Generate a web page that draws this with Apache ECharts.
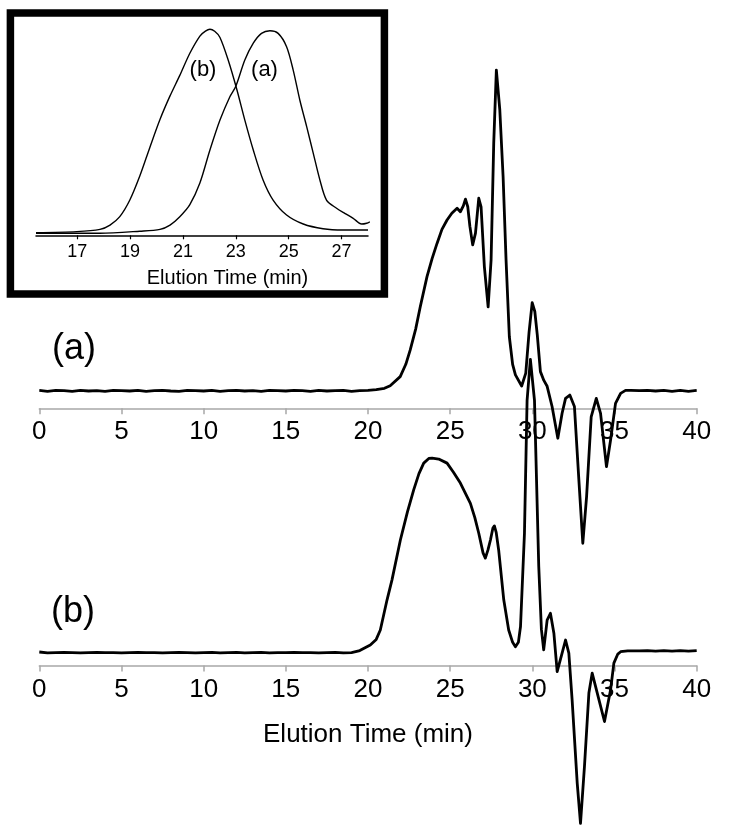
<!DOCTYPE html>
<html>
<head>
<meta charset="utf-8">
<script src="https://cdn.jsdelivr.net/npm/echarts@6/dist/echarts.min.js"></script>
<style>
html,body{margin:0;padding:0;background:#fff;}
#chart{width:750px;height:836px;}
</style>
</head>
<body>
<div id="chart"></div>
<script>
// ---------- data ----------
const mainTicks = [0, 5, 10, 15, 20, 25, 30, 35, 40];
const insetTicks = [17, 19, 21, 23, 25, 27];

// Panel (a): elution time (min) and detector signal (a.u.)
const timeA = [0,0.5,1,1.5,2,2.5,3,3.5,4,4.5,5,5.5,6,6.5,7,7.5,8,8.5,9,9.5,10,10.5,11,11.5,12,12.5,13,13.5,14,14.5,15,15.5,16,16.5,17,17.5,18,18.5,19,19.5,20,
  20.5,21,21.35,21.96,22.3,22.57,22.9,23.18,23.59,23.9,24.2,24.5,24.81,25.1,25.42,25.62,25.8,25.93,26.07,26.2,26.37,26.54,26.74,26.88,27.08,27.31,27.49,27.65,27.81,28.02,28.22,28.4,28.6,28.8,28.97,29.35,29.6,29.8,29.99,30.15,30.3,30.49,30.7,30.9,31.2,31.55,31.81,32.02,32.28,32.56,32.83,33.07,33.3,33.58,33.89,34.15,34.51,34.76,35.06,35.37,35.67,36,36.5,37,37.5,38,38.5,39,39.5,40];
const signalA = [0.1,-0.2,0.1,0,-0.2,0.1,-0.1,0,-0.2,0.1,0,-0.1,0.1,-0.2,0,0.1,-0.1,-0.2,0.1,0,-0.1,0.1,-0.2,0,0.1,-0.1,0,-0.2,0.1,0,-0.1,0.1,0,-0.2,0.1,-0.1,0,0.1,-0.2,0,0.1,
  0.4,0.8,1.7,4.8,9,13.9,21,28.6,38.9,45,50.2,55,58.2,60.5,62.2,61,63,65.3,62.7,56,49.7,53.7,65.6,62.7,42.3,28.6,44.6,84.3,109.3,95.7,73,44.6,18.4,9,5.4,1.6,6,20,30,27,19,6.5,3.5,1.5,-5.4,-16.2,-7.7,-2.6,-1.5,-5.4,-30.4,-52,-36.1,-8.9,-2.6,-7.7,-25.9,-16.8,-4.3,-0.9,0.1,0.1,0,0.1,-0.1,0.1,-0.2,0.1,-0.2,0.1];

// Panel (b)
const timeB = [0,0.5,1,1.5,2,2.5,3,3.5,4,4.5,5,5.5,6,6.5,7,7.5,8,8.5,9,9.5,10,10.5,11,11.5,12,12.5,13,13.5,14,14.5,15,15.5,16,16.5,17,17.5,18,18.5,19,
  19.5,20.14,20.5,20.75,21.16,21.46,21.97,22.4,22.78,23.1,23.39,23.7,23.9,24.3,24.81,25.2,25.62,26.23,26.5,26.74,27,27.14,27.3,27.45,27.6,27.69,27.8,27.95,28.26,28.56,28.8,28.97,29.15,29.28,29.52,29.68,29.88,30.13,30.39,30.55,30.69,30.9,31.1,31.31,31.51,31.81,32.02,32.22,32.42,32.73,32.93,33.17,33.44,33.64,33.95,34.39,34.76,34.96,35.2,35.37,35.8,36.5,37,37.5,38,38.5,39,39.5,40];
const signalB = [0.2,-0.1,0,0.1,0,-0.1,0,0.1,0,0,-0.1,0,0.1,0,0,-0.1,0,0.1,0,-0.1,0,0.1,-0.1,0,0.1,-0.1,0,0.1,-0.1,0,0,0.1,0,0,-0.1,0,0.1,-0.1,0,
  0.7,2.6,4.5,7.7,18,24.8,38.4,48,55.5,61,64.6,66.2,66.3,66,64.6,61.5,57.8,50.9,46,40.7,34,32.2,35,38.4,42.5,43.2,41,35,18,7.7,3.5,2,3.5,8.9,40.7,86,100,86,29.3,8,0.9,11.1,13.4,6.6,-6.5,-0.2,4.3,-0.2,-16.1,-44.5,-58.2,-38.9,-13.8,-7,-13.8,-23.5,-12.7,-3.6,-0.5,0.3,0.6,0.6,0.7,0.5,0.7,0.5,0.7,0.5,0.7];

// Inset: normalized traces
const insetTimeB = [15.44,16.98,17.86,18.24,18.61,18.99,19.37,19.75,20.13,20.51,20.88,21.26,21.64,21.85,22.02,22.2,22.4,22.71,23.03,23.34,23.66,24.03,24.41,24.92,25.55,26.3,27.06,28.0];
const insetSignalB = [0.013,0.018,0.029,0.05,0.091,0.172,0.29,0.43,0.565,0.68,0.78,0.888,0.972,0.996,1.005,0.995,0.965,0.855,0.715,0.562,0.416,0.27,0.172,0.099,0.055,0.032,0.026,0.026];
const insetTimeA = [15.44,17.86,19.37,20.13,20.51,20.88,21.26,21.64,22.02,22.4,22.77,23.0,23.34,23.66,23.97,24.29,24.6,24.92,25.17,25.42,25.68,25.93,26.18,26.43,26.81,27.12,27.44,27.76,27.95,28.07];
const insetSignalA = [0.01,0.01,0.02,0.029,0.05,0.091,0.15,0.255,0.416,0.562,0.675,0.727,0.855,0.937,0.985,0.998,0.985,0.92,0.806,0.66,0.53,0.4,0.27,0.172,0.132,0.107,0.083,0.055,0.059,0.066];

// ---------- chart ----------
const FONT = "'Liberation Sans', Arial, Helvetica, sans-serif";
const zip = (xs, ys) => xs.map((x, i) => [x, ys[i]]);

const chart = echarts.init(document.getElementById('chart'), null, {renderer: 'canvas'});

function mainXAxis(gridIndex) {
  return {
    type: 'value', gridIndex, min: mainTicks[0], max: mainTicks[mainTicks.length - 1], interval: 5,
    axisLine: {show: true, onZero: false, lineStyle: {color: '#a8a8a8', width: 1.5}},
    axisTick: {show: true, length: 6, lineStyle: {color: '#a8a8a8', width: 1.5}},
    splitLine: {show: false},
    axisLabel: {color: '#000', fontSize: 26, fontFamily: FONT, margin: 11, showMinLabel: true, showMaxLabel: true}
  };
}

const lineBase = {
  type: 'line', showSymbol: false, symbol: 'none', clip: false, smooth: false,
  animation: false, silent: true
};

const option = {
  backgroundColor: '#fff',
  animation: false,
  grid: [
    {left: 39.3, right: 53.3, top: 68, bottom: 427.7},
    {left: 39.3, right: 53.3, top: 359.3, bottom: 170.5},
    {left: 36, right: 382, top: 20.05, bottom: 600.7}
  ],
  xAxis: [
    mainXAxis(0),
    Object.assign(mainXAxis(1), {
      name: 'Elution Time (min)', nameLocation: 'middle', nameGap: 56,
      nameTextStyle: {color: '#000', fontSize: 26, fontFamily: FONT}
    }),
    {
      type: 'value', gridIndex: 2, min: 15.44, max: 28,
      axisLine: {show: true, onZero: false, lineStyle: {color: '#000', width: 1.5}},
      axisTick: {show: true, length: 4, customValues: insetTicks, lineStyle: {color: '#000', width: 1.2}},
      splitLine: {show: false},
      axisLabel: {color: '#000', fontSize: 18, fontFamily: FONT, margin: 8, customValues: insetTicks}
    }
  ],
  yAxis: [
    {type: 'value', gridIndex: 0, min: -6, max: 110, show: false, splitLine: {show: false}},
    {type: 'value', gridIndex: 1, min: -4.4, max: 100, show: false, splitLine: {show: false}},
    {type: 'value', gridIndex: 2, min: 0, max: 1.05, show: false, splitLine: {show: false}}
  ],
  series: [
    Object.assign({}, lineBase, {name: '(a)', xAxisIndex: 0, yAxisIndex: 0, data: zip(timeA, signalA),
      lineStyle: {color: '#000', width: 2.8, join: 'round'}, z: 3}),
    Object.assign({}, lineBase, {name: '(b)', xAxisIndex: 1, yAxisIndex: 1, data: zip(timeB, signalB),
      lineStyle: {color: '#000', width: 2.8, join: 'round'}, z: 3}),
    Object.assign({}, lineBase, {name: 'inset (b)', xAxisIndex: 2, yAxisIndex: 2, data: zip(insetTimeB, insetSignalB),
      smooth: 0.3, lineStyle: {color: '#000', width: 1.4}, z: 3}),
    Object.assign({}, lineBase, {name: 'inset (a)', xAxisIndex: 2, yAxisIndex: 2, data: zip(insetTimeA, insetSignalA),
      smooth: 0.3, lineStyle: {color: '#000', width: 1.4}, z: 3})
  ],
  graphic: [
    {type: 'rect', shape: {x: 10.4, y: 13, width: 374, height: 281},
      style: {fill: 'none', stroke: '#000', lineWidth: 7.5}, z: 10, silent: true},
    {type: 'text', x: 74, y: 349, style: {text: '(a)', fontSize: 36, fontFamily: FONT, fill: '#000', textAlign: 'center', textVerticalAlign: 'middle'}, z: 10},
    {type: 'text', x: 73, y: 612, style: {text: '(b)', fontSize: 36, fontFamily: FONT, fill: '#000', textAlign: 'center', textVerticalAlign: 'middle'}, z: 10},
    {type: 'text', x: 203, y: 70, style: {text: '(b)', fontSize: 22, fontFamily: FONT, fill: '#000', textAlign: 'center', textVerticalAlign: 'middle'}, z: 10},
    {type: 'text', x: 264.5, y: 70, style: {text: '(a)', fontSize: 22, fontFamily: FONT, fill: '#000', textAlign: 'center', textVerticalAlign: 'middle'}, z: 10},
    {type: 'text', x: 227.5, y: 278, style: {text: 'Elution Time (min)', fontSize: 20, fontFamily: FONT, fill: '#000', textAlign: 'center', textVerticalAlign: 'middle'}, z: 10}
  ]
};
chart.setOption(option);
</script>
</body>
</html>
